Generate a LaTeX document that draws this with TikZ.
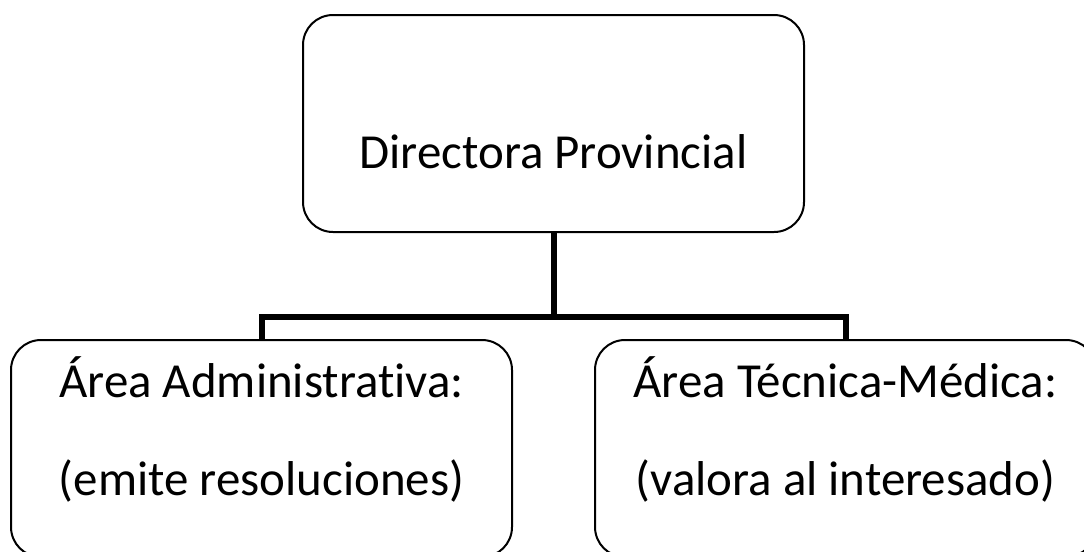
\documentclass[tikz,border=0pt]{standalone}
\usepackage{fontspec}
\setmainfont{Carlito}[Ligatures=NoCommon]

\begin{document}
\begin{tikzpicture}[x=0.75pt,y=-0.75pt,node distance=243.75pt,
  box/.style={draw,line width=1.5pt,rounded corners=22.5pt,minimum width=375.75pt,minimum height=162.75pt,inner sep=0pt},
  txt/.style={anchor=base,inner sep=0pt,font=\fontsize{36.7}{42}\selectfont},
  link/.style={line width=4.5pt}]
\useasboundingbox (0,0) rectangle (1084,551);

\node[box]   (dir)                              at (553.5,123.5) {};
 \node[box]  (adm) [below of=dir,xshift=-219pt]                   {};
	\node[box] (tec) [below of=dir,xshift=219pt]                    {};

\node[txt] (dirtxt)  at ([yshift=-33.4pt]dir.center) {Directora Provincial};
\node[txt] (admtxt1) at ([yshift=37.9pt]adm.center)  {Área Administrativa:};
\node[txt] (admtxt2) at ([yshift=-34.9pt]adm.center) {(emite resoluciones)};
\node[txt] (tectxt1) at ([yshift=37.9pt]tec.center)  {Área Técnica-Médica:};
\node[txt] (tectxt2) at ([yshift=-34.9pt]tec.center) {(valora al interesado)};

\coordinate (fork) at (553.5,316.5);
	\draw[link] (dir.south) -- (fork);
	\draw[link] (adm.north) |- (fork) -| (tec.north);

\end{tikzpicture}
\end{document}
